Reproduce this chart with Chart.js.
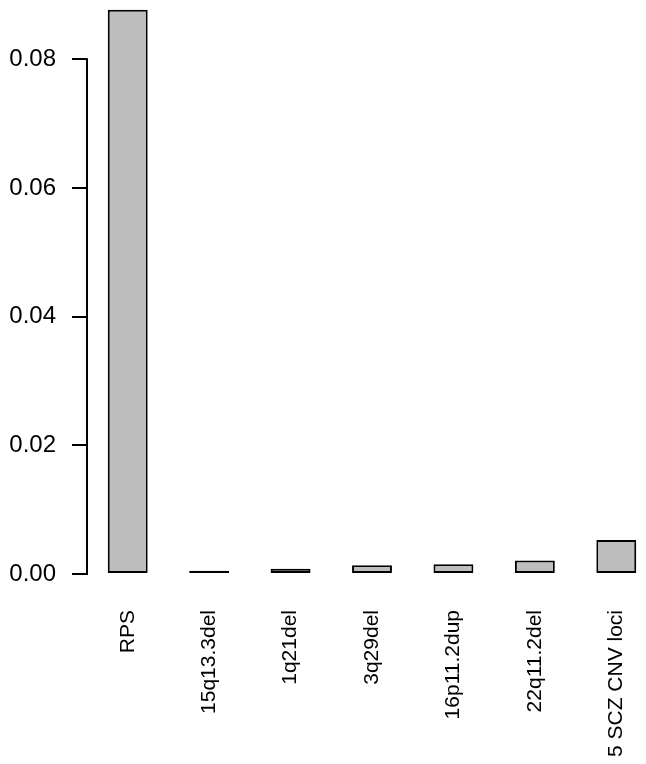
<!DOCTYPE html>
<html>
<head>
<meta charset="utf-8">
<script src="https://cdn.jsdelivr.net/npm/chart.js@4"></script>
<style>
  html, body { margin: 0; padding: 0; background: #fff; overflow: hidden; }
</style>
</head>
<body>
<canvas id="riskChart" width="660" height="764"></canvas>
<script>
// categories and values
const categories = ['RPS', '15q13.3del', '1q21del', '3q29del', '16p11.2dup', '22q11.2del', '5 SCZ CNV loci'];
const riskValues = [0.0877, 0.0005, 0.0008, 0.00135, 0.0015, 0.0021, 0.0053];
const yTicks = [0, 0.02, 0.04, 0.06, 0.08];

// R style y axis: line only from first to last tick
const axisLine = {
    id: 'axisLine',
    afterDraw(chart) {
        const y = chart.scales.y;
        const ctx = chart.ctx;
        ctx.save();
        ctx.strokeStyle = '#000';
        ctx.lineWidth = 2;
        ctx.beginPath();
        ctx.moveTo(chart.chartArea.left, y.getPixelForValue(yTicks[0]) + 1);
        ctx.lineTo(chart.chartArea.left, y.getPixelForValue(yTicks[yTicks.length - 1]) - 1);
        ctx.stroke();
        ctx.restore();
    }
};

function noPadding(scale) {
    scale.paddingTop = 0;
    scale.paddingBottom = 0;
    scale.paddingLeft = 0;
    scale.paddingRight = 0;
}

const ctx = document.getElementById('riskChart').getContext('2d');
new Chart(ctx, {
    type: 'bar',
    data: {
        labels: categories,
        datasets: [{
            data: riskValues,
            backgroundColor: '#bebebe',
            borderColor: '#000',
            borderWidth: 2,
            borderSkipped: false,
            barPercentage: 0.49,
            categoryPercentage: 1
        }]
    },
    options: {
        responsive: false,
        animation: false,
        layout: { autoPadding: false, padding: { left: 0, right: 3, top: 0, bottom: 0 } },
        plugins: {
            legend: { display: false },
            tooltip: { enabled: false }
        },
        scales: {
            x: {
                grid: { display: false, drawTicks: false },
                border: { display: false },
                ticks: {
                    color: '#000',
                    font: { family: 'Liberation Sans', size: 21 },
                    minRotation: 90,
                    maxRotation: 90,
                    padding: 36,
                    autoSkip: false
                },
                afterFit(scale) {
                    scale.height = 190;
                    noPadding(scale);
                }
            },
            y: {
                min: 0,
                max: 0.0892,
                grid: {
                    display: true,
                    drawOnChartArea: false,
                    tickLength: 15,
                    color: '#000',
                    lineWidth: 2
                },
                border: { display: false },
                ticks: {
                    color: '#000',
                    font: { family: 'Liberation Sans', size: 24 },
                    padding: 16,
                    callback: v => v.toFixed(2)
                },
                afterBuildTicks(scale) {
                    scale.ticks = yTicks.map(v => ({ value: v }));
                },
                afterFit(scale) {
                    scale.width = 87;
                    noPadding(scale);
                }
            }
        }
    },
    plugins: [axisLine]
});
</script>
</body>
</html>
